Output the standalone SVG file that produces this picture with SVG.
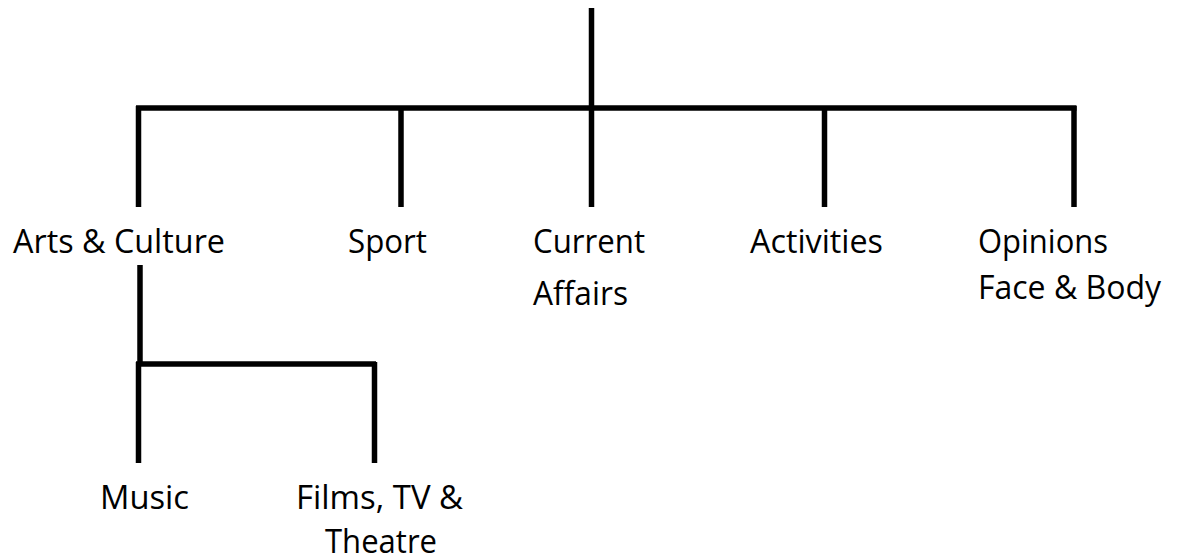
<svg xmlns="http://www.w3.org/2000/svg" width="1181" height="558" viewBox="0 0 1181 558">
  <style>
    .wire { stroke: #000; stroke-width: 5.5; fill: none; stroke-linecap: butt; }
    .label { font-family: "Open Sans", "Liberation Sans", sans-serif; font-size: 32px; fill: #000; }
  </style>
  <rect width="1181" height="558" fill="#fff"/>

  <!-- tree connectors -->
  <g id="connectors">
    <line class="wire" x1="591.5" y1="8" x2="591.5" y2="108"/>
    <line class="wire" x1="136" y1="108" x2="1076.5" y2="108"/>
    <line class="wire" x1="138.5" y1="106" x2="138.5" y2="207"/>
    <line class="wire" x1="401" y1="108" x2="401" y2="207"/>
    <line class="wire" x1="591.5" y1="108" x2="591.5" y2="207"/>
    <line class="wire" x1="824.5" y1="108" x2="824.5" y2="207"/>
    <line class="wire" x1="1074" y1="106" x2="1074" y2="207"/>

    <line class="wire" x1="140" y1="265" x2="140" y2="364"/>
    <line class="wire" x1="136" y1="364" x2="376" y2="364"/>
    <line class="wire" x1="138.5" y1="362" x2="138.5" y2="463"/>
    <line class="wire" x1="374.5" y1="362" x2="374.5" y2="463"/>
  </g>

  <g id="arts-culture">
    <text class="label" x="13" y="253" textLength="212" lengthAdjust="spacingAndGlyphs">Arts &amp; Culture</text>
  </g>
  <g id="sport">
    <text class="label" x="348" y="253" textLength="79" lengthAdjust="spacingAndGlyphs">Sport</text>
  </g>
  <g id="current-affairs">
    <text class="label" x="533" y="253" textLength="112" lengthAdjust="spacingAndGlyphs">Current</text>
    <text class="label" x="533" y="305" textLength="95" lengthAdjust="spacingAndGlyphs">Affairs</text>
  </g>
  <g id="activities">
    <text class="label" x="750" y="253" textLength="133" lengthAdjust="spacingAndGlyphs">Activities</text>
  </g>
  <g id="opinions">
    <text class="label" x="978" y="253" textLength="130" lengthAdjust="spacingAndGlyphs">Opinions</text>
    <text class="label" x="978" y="299" textLength="183" lengthAdjust="spacingAndGlyphs">Face &amp; Body</text>
  </g>
  <g id="music">
    <text class="label" x="100" y="509" textLength="89" lengthAdjust="spacingAndGlyphs">Music</text>
  </g>
  <g id="films-tv-theatre">
    <text class="label" x="296" y="509" textLength="167" lengthAdjust="spacingAndGlyphs">Films, TV &amp;</text>
    <text class="label" x="325" y="553" textLength="112" lengthAdjust="spacingAndGlyphs">Theatre</text>
  </g>
</svg>
